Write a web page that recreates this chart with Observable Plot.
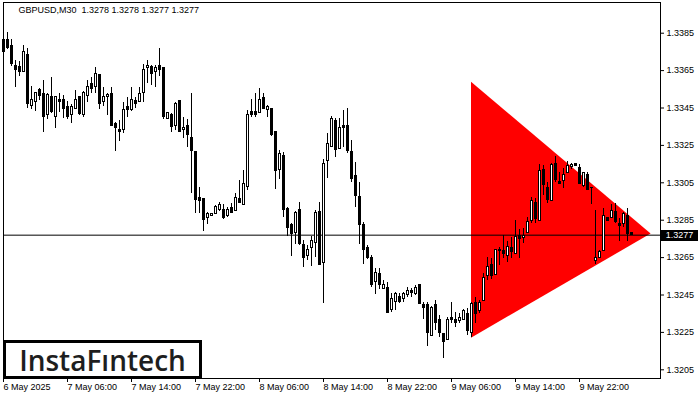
<!DOCTYPE html>
<html><head><meta charset="utf-8">
<script src="https://cdn.jsdelivr.net/npm/d3@7"></script>
<script src="https://cdn.jsdelivr.net/npm/@observablehq/plot@0.6"></script>
<style>
html,body{margin:0;padding:0;background:#fff;}
#wrap{position:relative;width:700px;height:400px;overflow:hidden;background:#fff;}
#logo{position:absolute;left:3px;top:340px;width:199px;height:39px;box-sizing:border-box;border:3px solid #000;background:#fff;font-family:"Open Sans",sans-serif;font-weight:600;font-size:28px;color:#1e1e1e;display:flex;align-items:center;justify-content:center;letter-spacing:0px;}
#price{position:absolute;left:661px;width:37px;height:11px;background:#000;color:#fff;font:9px "Liberation Sans",sans-serif;line-height:11px;text-align:center;}
</style></head>
<body><div id="wrap"></div>
<script>
const titleText = "GBPUSD,M30\u00A0\u00A01.3278 1.3278 1.3277 1.3277";
const logoText = "InstaFıntech";
const lastPrice = 1.3277;

const open = [1.33748,1.33811,1.33784,1.33677,1.33668,1.33642,1.33735,1.33460,1.33481,1.33544,
1.33526,1.33410,1.33508,1.33401,1.33495,1.33495,1.33454,1.33414,1.33446,1.33508,
1.33410,1.33513,1.33576,1.33561,1.33624,1.33481,1.33509,1.33526,1.33362,1.33335,
1.33330,1.33454,1.33442,1.33485,1.33481,1.33529,1.33663,1.33668,1.33642,1.33677,
1.33665,1.33392,1.33415,1.33356,1.33485,1.33333,1.33356,1.33291,1.33214,1.32970,
1.32961,1.32863,1.32871,1.32884,1.32907,1.32902,1.32871,1.32914,1.32898,1.32961,
1.32932,1.33030,1.33426,1.33426,1.33424,1.33505,1.33437,1.33446,1.33321,1.33120,
1.33196,1.32911,1.32822,1.32780,1.32902,1.32720,1.32656,1.32702,1.32729,1.32893,
1.32620,1.33164,1.33240,1.33383,1.33232,1.33356,1.33356,1.33214,1.33084,1.32973,
1.32822,1.32702,1.32647,1.32518,1.32560,1.32483,1.32488,1.32371,1.32415,1.32442,
1.32430,1.32451,1.32470,1.32453,1.32501,1.32394,1.32394,1.32233,1.32394,1.32314,
1.32239,1.32210,1.32328,1.32314,1.32310,1.32314,1.32349,1.32246,1.32406,1.32362,
1.32417,1.32551,1.32613,1.32558,1.32683,1.32683,1.32661,1.32702,1.32670,1.32768,
1.32756,1.32780,1.32848,1.32943,1.32848,1.33120,1.33023,1.32952,1.33152,1.33052,
1.33062,1.33103,1.33133,1.33152,1.33130,1.33034,1.33094,1.33023,1.32631,1.32649,
1.32683,1.32863,1.32863,1.32893,1.32831,1.32831,1.32875,1.32780];

const high = [1.33820,1.33855,1.33816,1.33704,1.33699,1.33784,1.33770,1.33565,1.33533,1.33556,
1.33597,1.33526,1.33615,1.33512,1.33526,1.33517,1.33485,1.33467,1.33544,1.33513,
1.33538,1.33597,1.33615,1.33668,1.33628,1.33561,1.33526,1.33561,1.33374,1.33383,
1.33481,1.33508,1.33561,1.33508,1.33561,1.33681,1.33704,1.33677,1.33677,1.33767,
1.33668,1.33428,1.33419,1.33478,1.33488,1.33401,1.33387,1.33526,1.33217,1.33023,
1.32963,1.32893,1.32886,1.32929,1.32943,1.32934,1.32920,1.32941,1.32994,1.33062,
1.33116,1.33437,1.33494,1.33526,1.33553,1.33529,1.33463,1.33449,1.33324,1.33223,
1.33214,1.32920,1.32831,1.32898,1.32946,1.32741,1.32715,1.32763,1.32902,1.32946,
1.33173,1.33315,1.33405,1.33392,1.33392,1.33437,1.33446,1.33276,1.33160,1.33053,
1.32839,1.32715,1.32661,1.32590,1.32590,1.32528,1.32518,1.32460,1.32465,1.32456,
1.32465,1.32488,1.32483,1.32501,1.32504,1.32411,1.32411,1.32388,1.32421,1.32340,
1.32244,1.32331,1.32411,1.32358,1.32349,1.32371,1.32376,1.32411,1.32438,1.32421,
1.32567,1.32652,1.32644,1.32694,1.32706,1.32768,1.32738,1.32759,1.32848,1.32799,
1.32804,1.32863,1.32973,1.32964,1.33148,1.33143,1.33053,1.33152,1.33191,1.33107,
1.33125,1.33166,1.33155,1.33154,1.33148,1.33107,1.33103,1.33025,1.32902,1.32688,
1.32911,1.32865,1.32934,1.32938,1.32857,1.32893,1.32911,1.32780];

const low = [1.33704,1.33763,1.33674,1.33561,1.33620,1.33638,1.33446,1.33442,1.33431,1.33490,
1.33321,1.33389,1.33421,1.33342,1.33424,1.33395,1.33389,1.33369,1.33443,1.33410,
1.33401,1.33481,1.33526,1.33526,1.33442,1.33460,1.33410,1.33350,1.33217,1.33271,
1.33312,1.33401,1.33431,1.33446,1.33478,1.33481,1.33579,1.33570,1.33561,1.33620,
1.33389,1.33387,1.33321,1.33330,1.33320,1.33285,1.33240,1.32991,1.32887,1.32887,
1.32791,1.32827,1.32869,1.32882,1.32898,1.32852,1.32866,1.32885,1.32896,1.32938,
1.32930,1.33009,1.33401,1.33401,1.33422,1.33440,1.33401,1.33298,1.33013,1.33066,
1.32866,1.32763,1.32657,1.32720,1.32715,1.32599,1.32634,1.32602,1.32652,1.32608,
1.32406,1.33071,1.33238,1.33184,1.33230,1.33240,1.33205,1.33053,1.32920,1.32720,
1.32613,1.32638,1.32492,1.32453,1.32478,1.32480,1.32349,1.32358,1.32367,1.32403,
1.32411,1.32438,1.32438,1.32450,1.32399,1.32317,1.32175,1.32228,1.32260,1.32224,
1.32109,1.32208,1.32299,1.32278,1.32299,1.32312,1.32233,1.32221,1.32299,1.32349,
1.32415,1.32528,1.32531,1.32556,1.32608,1.32644,1.32625,1.32644,1.32668,1.32644,
1.32724,1.32778,1.32834,1.32831,1.32846,1.32982,1.32938,1.32950,1.33053,1.33041,
1.33018,1.33101,1.33120,1.33137,1.33041,1.33026,1.33011,1.32932,1.32613,1.32645,
1.32681,1.32846,1.32861,1.32834,1.32738,1.32813,1.32738,1.32770];

const close = [1.33811,1.33770,1.33686,1.33651,1.33642,1.33748,1.33469,1.33495,1.33531,1.33513,
1.33401,1.33517,1.33431,1.33508,1.33481,1.33446,1.33401,1.33454,1.33495,1.33419,
1.33529,1.33565,1.33553,1.33633,1.33469,1.33508,1.33517,1.33353,1.33342,1.33321,
1.33437,1.33442,1.33495,1.33469,1.33526,1.33654,1.33677,1.33633,1.33665,1.33654,
1.33401,1.33424,1.33347,1.33473,1.33321,1.33344,1.33303,1.33219,1.32959,1.32952,
1.32852,1.32884,1.32884,1.32923,1.32932,1.32863,1.32902,1.32887,1.32970,1.32943,
1.33045,1.33415,1.33414,1.33412,1.33495,1.33446,1.33454,1.33308,1.33112,1.33205,
1.32902,1.32809,1.32777,1.32890,1.32724,1.32649,1.32692,1.32738,1.32887,1.32611,
1.33152,1.33255,1.33392,1.33223,1.33344,1.33344,1.33219,1.33068,1.32978,1.32827,
1.32692,1.32649,1.32506,1.32569,1.32501,1.32501,1.32355,1.32430,1.32453,1.32415,
1.32453,1.32474,1.32460,1.32488,1.32403,1.32382,1.32246,1.32382,1.32299,1.32246,
1.32198,1.32317,1.32314,1.32299,1.32328,1.32363,1.32260,1.32403,1.32349,1.32408,
1.32542,1.32602,1.32551,1.32692,1.32692,1.32667,1.32709,1.32679,1.32759,1.32751,
1.32768,1.32839,1.32955,1.32857,1.33112,1.33036,1.32959,1.33143,1.33066,1.33046,
1.33093,1.33139,1.33143,1.33141,1.33045,1.33101,1.33013,1.33020,1.32649,1.32679,
1.32870,1.32848,1.32898,1.32839,1.32818,1.32884,1.32774,1.32770];

// time axis: bar index of each label and its text
const timeTickBars = [0, 16, 32, 48, 64, 80, 96, 112, 128, 144];
const timeTickLabels = ["6 May 2025","7 May 06:00","7 May 14:00","7 May 22:00","8 May 06:00","8 May 14:00","8 May 22:00","9 May 06:00","9 May 14:00","9 May 22:00"];
const priceTicks = [1.3205,1.3225,1.3245,1.3265,1.3285,1.3305,1.3325,1.3345,1.3365,1.3385];

// bearish symmetrical triangle pattern: start bar, apex bar, prices
const triangleBars = [117, 161.9];
const triangleUpper = [1.33588, 1.32776];
const triangleLower = [1.32219, 1.32776];

const candles = open.map((o, i) => ({i, open: o, high: high[i], low: low[i], close: close[i]}));
const tri = triangleBars.map((b, k) => ({b, upper: triangleUpper[k], lower: triangleLower[k]}));
const labelMap = new Map(timeTickBars.map((b, k) => [b, timeTickLabels[k]]));

const chart = Plot.plot({
  width: 700, height: 400,
  marginTop: 2, marginBottom: 22, marginLeft: 3, marginRight: 40,
  x: {domain: [0, 164.25], axis: null},
  y: {domain: [1.320035, 1.340142], axis: null},
  style: {fontFamily: "'Liberation Sans', Arial, sans-serif", fontSize: "9px", color: "black", background: "white"},
  marks: [
    Plot.areaY(tri, {x: "b", y1: "lower", y2: "upper", fill: "#ff0000", curve: "linear"}),
    Plot.ruleY([lastPrice], {stroke: "black", strokeWidth: 1}),
    Plot.ruleX(candles, {x: "i", y1: "low", y2: "high", stroke: "black", strokeWidth: 1, shapeRendering: "crispEdges"}),
    Plot.rect(candles, {
      x1: d => d.i - 0.25, x2: d => d.i + 0.25,
      y1: "open", y2: "close",
      fill: d => d.close >= d.open ? "white" : "black",
      stroke: "black", strokeWidth: 1, shapeRendering: "crispEdges"
    }),
    Plot.frame({stroke: "black"}),
    Plot.axisY({anchor: "right", ticks: priceTicks, tickSize: 3, tickPadding: 3, tickFormat: d => d.toFixed(4), fill: "black", stroke: "black"}),
    Plot.axisX({anchor: "bottom", ticks: timeTickBars, tickSize: 4, tickPadding: 1, tickFormat: d => labelMap.get(d), textAnchor: "start", fill: "black", stroke: "black"}),
    Plot.text([titleText], {frameAnchor: "top-left", dx: 15, dy: 4, textAnchor: "start", lineAnchor: "top", fill: "black"})
  ]
});

const wrap = document.getElementById("wrap");
wrap.appendChild(chart);

const yPx = chart.scale("y").apply(lastPrice);
const priceBox = document.createElement("div");
priceBox.id = "price";
priceBox.textContent = lastPrice.toFixed(4);
priceBox.style.top = (yPx - 5) + "px";
wrap.appendChild(priceBox);

const logo = document.createElement("div");
logo.id = "logo";
logo.textContent = logoText;
wrap.appendChild(logo);
</script>
</body></html>
